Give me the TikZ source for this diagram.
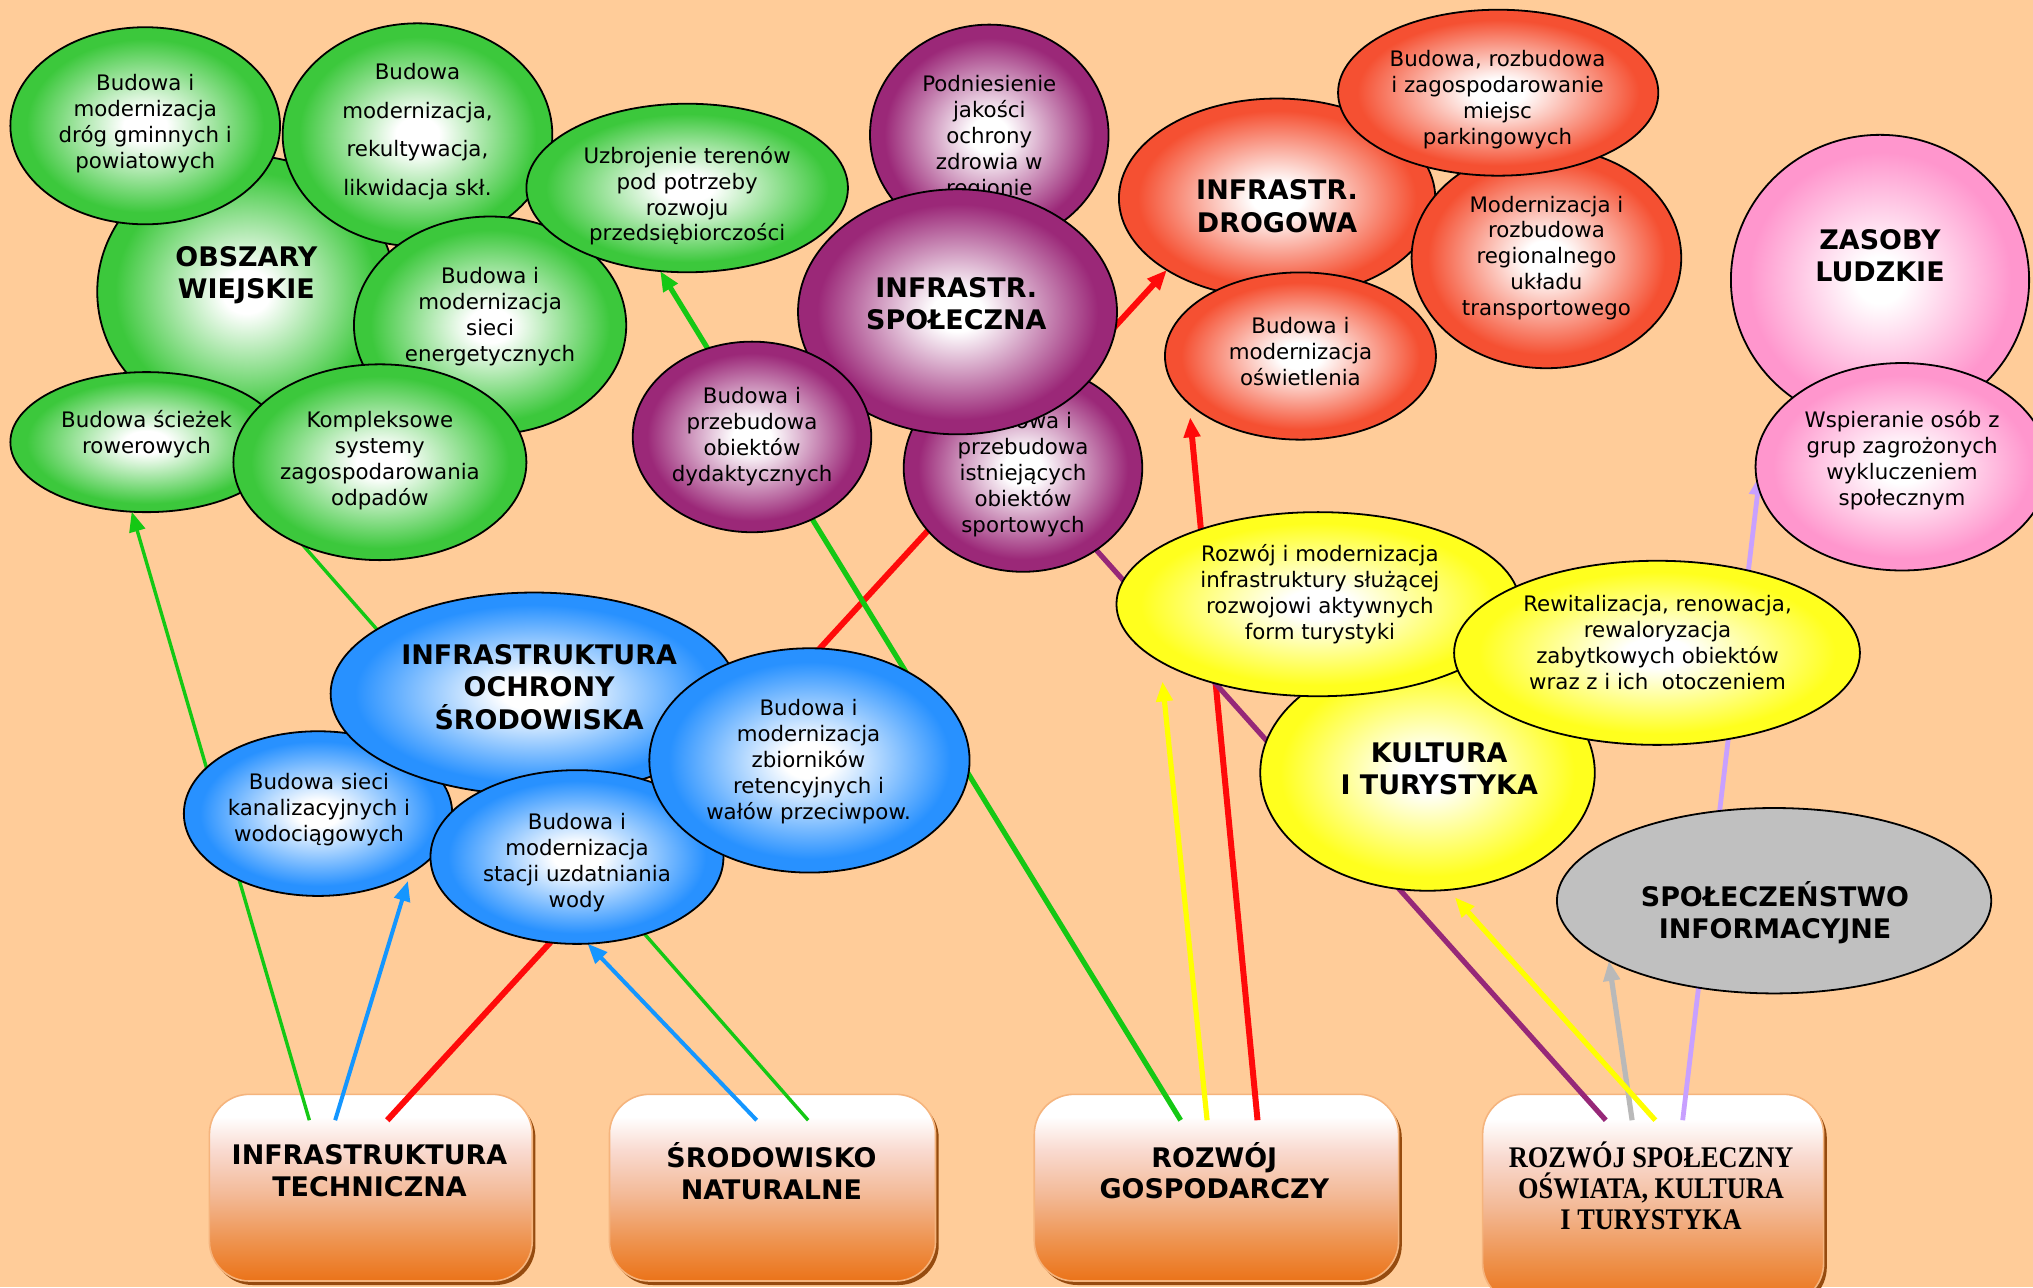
\documentclass[tikz,border=0pt]{standalone}
\usepackage{fontspec}
\setmainfont{DejaVu Sans}
\newfontfamily\boxserif[FakeStretch=0.88]{Liberation Serif}
\usetikzlibrary{shapes.geometric,arrows.meta,shadows}
\pgfdeclarelayer{back}
\pgfdeclarelayer{lines}
\pgfsetlayers{back,lines,main}

\definecolor{bgc}{RGB}{255,204,153}
\definecolor{cgreen}{RGB}{60,200,60}
\definecolor{cpurple}{RGB}{155,40,120}
\definecolor{cred}{RGB}{245,80,50}
\definecolor{cblue}{RGB}{40,145,255}
\definecolor{cyellow}{RGB}{255,255,30}
\definecolor{cpink}{RGB}{255,150,205}
\definecolor{cgray}{RGB}{192,192,192}
\definecolor{boxor}{RGB}{235,115,25}
\definecolor{boxmid}{RGB}{238,145,75}
\definecolor{boxsal}{RGB}{243,185,150}
\definecolor{boxpk}{RGB}{249,218,208}
\definecolor{boxbd}{RGB}{245,180,125}
\definecolor{boxsh}{RGB}{150,75,15}
\definecolor{lgreen}{RGB}{20,200,20}
\definecolor{lred}{RGB}{255,10,10}
\definecolor{lblue}{RGB}{20,150,255}
\definecolor{lyellow}{RGB}{255,255,0}
\definecolor{lpurple}{RGB}{150,40,120}
\definecolor{lgray}{RGB}{185,185,185}
\definecolor{llav}{RGB}{200,160,255}
\colorlet{elc}{white}

\pgfdeclareradialshading[elc]{elshade}{\pgfpoint{0bp}{0bp}}{color(0bp)=(white); color(4bp)=(white); color(22bp)=(elc); color(50bp)=(elc)}
\pgfdeclareverticalshading{boxshade}{100bp}{color(0bp)=(boxor); color(25bp)=(boxor); color(35bp)=(boxmid); color(48bp)=(boxsal); color(60bp)=(boxpk); color(69bp)=(white); color(100bp)=(white)}

\tikzset{
  el/.style={ellipse, draw=black, line width=0.9pt, inner sep=0pt, outer sep=0pt, /utils/exec={\colorlet{elc}{#1}}, shading=elshade, shade},
  elflat/.style={ellipse, draw=black, line width=0.9pt, inner sep=0pt, outer sep=0pt, fill=#1},
  sz/.style 2 args={minimum width=#1*0.65pt, minimum height=#2*0.65pt},
  tx/.style={align=center, inner sep=0pt, font=\fontsize{10.7}{13}\selectfont},
  ttl/.style={align=center, inner sep=0pt, font=\fontsize{13.5}{16.2}\selectfont\bfseries},
  boxst/.style={rectangle, rounded corners=20pt, draw=boxbd, line width=0.8pt, shading=boxshade, shade, drop shadow={shadow xshift=1.6pt, shadow yshift=-2pt, fill=boxsh, opacity=1}, inner sep=0pt},
  arr/.style={-{Triangle[length=10pt,width=8pt]}},
}

\begin{document}
\begin{tikzpicture}[x=0.65pt,y=-0.65pt]
\useasboundingbox (0,0) rectangle (1568,993);

% ---------- green group ----------
\node[el=cgreen, sz={230}{210}] (G0) at (190,225) {};
\node[ttl] (G0t) at (190,212.5) {OBSZARY\\WIEJSKIE};
\node[el=cgreen, sz={208}{152}] (G1) at (112,97) {};
\node[tx] (G1t) at (112,95.6) {Budowa i\\modernizacja\\dróg gminnych i\\powiatowych};
\node[el=cgreen, sz={208}{172}] (G2) at (322,104) {};
\node[tx, font=\fontsize{10.7}{19.5}\selectfont] (G2t) at (322,101.5) {Budowa\\modernizacja,\\rekultywacja,\\likwidacja skł.};
\node[el=cgreen, sz={210}{168}] (G4) at (378,251) {};
\node[tx] (G4t) at (378,244) {Budowa i\\modernizacja\\sieci\\energetycznych};
\node[el=cgreen, sz={248}{130}] (G3) at (530,145) {};
\node[tx] (G3t) at (530,151) {Uzbrojenie terenów\\pod potrzeby\\rozwoju\\przedsiębiorczości};
\node[el=cgreen, sz={210}{108}] (G5) at (113,341) {};
\node[tx] (G5t) at (113,335) {Budowa ścieżek\\rowerowych};
\node[el=cgreen, sz={226}{151}] (G6) at (293,356.5) {};
\node[tx] (G6t) at (293,355) {Kompleksowe\\systemy\\zagospodarowania\\odpadów};

% ---------- purple group ----------
\node[el=cpurple, sz={184}{170}] (P1) at (763,104) {};
\node[tx] (P1t) at (763,106) {Podniesienie\\jakości\\ochrony\\zdrowia w\\regionie};
\node[el=cpurple, sz={184}{160}] (P2) at (789,361) {};
\node[tx] (P2t) at (789,366) {Budowa i\\przebudowa\\istniejących\\obiektów\\sportowych};
\node[el=cpurple, sz={246}{189}] (P0) at (738.5,240.5) {};
\node[ttl] (P0t) at (737.6,234) {INFRASTR.\\SPOŁECZNA};
\node[el=cpurple, sz={184}{147}] (P3) at (580,337) {};
\node[tx] (P3t) at (580,337) {Budowa i\\przebudowa\\obiektów\\dydaktycznych};

% ---------- red group ----------
\node[el=cred, sz={244}{154}] (R0) at (985,153) {};
\node[ttl] (R0t) at (985,159) {INFRASTR.\\DROGOWA};
\node[el=cred, sz={208}{170}] (R2) at (1192.7,199) {};
\node[tx] (R2t) at (1192.7,199) {Modernizacja i\\rozbudowa\\regionalnego\\układu\\transportowego};
\node[el=cred, sz={247}{128}] (R1) at (1155.5,71.5) {};
\node[tx] (R1t) at (1155,77) {Budowa, rozbudowa\\i zagospodarowanie\\miejsc\\parkingowych};
\node[el=cred, sz={209}{129}] (R3) at (1003,274.6) {};
\node[tx] (R3t) at (1003,271) {Budowa i\\modernizacja\\oświetlenia};

% ---------- pink group ----------
\node[el=cpink, sz={230}{224}] (K0) at (1450,216) {};
\node[ttl] (K0t) at (1450,197) {ZASOBY\\LUDZKIE};
\node[el=cpink, sz={226}{160}] (K1) at (1467,360) {};
\node[tx] (K1t) at (1467,355) {Wspieranie osób z\\grup zagrożonych\\wykluczeniem\\społecznym};

% ---------- yellow group ----------
\node[el=cyellow, sz={258}{182}] (Y0) at (1101,596) {};
\node[ttl] (Y0t) at (1110,593) {KULTURA\\I TURYSTYKA};
\node[el=cyellow, sz={311}{142}] (Y1) at (1016.6,466) {};
\node[tx] (Y1t) at (1018,458.4) {Rozwój i modernizacja\\infrastruktury służącej\\rozwojowi aktywnych\\form turystyki};
\node[el=cyellow, sz={313}{142}] (Y2) at (1278,503.5) {};
\node[tx] (Y2t) at (1278.4,495.3) {Rewitalizacja, renowacja,\\rewaloryzacja\\zabytkowych obiektów\\wraz z i ich~~otoczeniem};

% ---------- gray ----------
\node[elflat=cgray, sz={335}{143}] (S0) at (1368.3,694.7) {};
\node[ttl] (S0t) at (1369,703.8) {SPOŁECZEŃSTWO\\INFORMACYJNE};

% ---------- blue group ----------
\node[el=cblue, sz={207}{127}] (B1) at (245.3,627.5) {};
\node[tx] (B1t) at (246,624.5) {Budowa sieci\\kanalizacyjnych i\\wodociągowych};
\node[el=cblue, sz={314}{156}] (B0) at (412,535) {};
\node[ttl] (B0t) at (415.8,530) {INFRASTRUKTURA\\OCHRONY\\ŚRODOWISKA};
\node[el=cblue, sz={226}{134}] (B2) at (445,661) {};
\node[tx] (B2t) at (445,665.4) {Budowa i\\modernizacja\\stacji uzdatniania\\wody};
\node[el=cblue, sz={247}{173}] (B3) at (624.3,586.5) {};
\node[tx] (B3t) at (623.6,587.5) {Budowa i\\modernizacja\\zbiorników\\retencyjnych i\\wałów przeciwpow.};

% ---------- background and bottom boxes ----------
\begin{pgfonlayer}{back}
\fill[bgc] (0,0) rectangle (1568,993);
\node[boxst, sz={249}{144}] (T1) at (286,916) {};
\node[ttl, font=\fontsize{13.5}{15.8}\selectfont\bfseries] (T1t) at (285,903) {INFRASTRUKTURA\\TECHNICZNA};
\node[boxst, sz={251.5}{144}] (T2) at (595.8,916) {};
\node[ttl, font=\fontsize{13.5}{15.8}\selectfont\bfseries] (T2t) at (595,903.5) {ŚRODOWISKO\\NATURALNE};
\node[boxst, sz={281}{144}] (T3) at (938.2,916) {};
\node[ttl, font=\fontsize{13.5}{15.8}\selectfont\bfseries] (T3t) at (936.6,903) {ROZWÓJ\\GOSPODARCZY};
\node[boxst, sz={263}{161}] (T4) at (1275,924.5) {};
\node[align=center, inner sep=0pt, font=\boxserif\fontsize{15}{15.4}\selectfont\bfseries] (T4t) at (1273.4,914.6) {ROZWÓJ SPOŁECZNY\\OŚWIATA, KULTURA\\I TURYSTYKA};
\end{pgfonlayer}

% ---------- connectors ----------
\coordinate (t1g) at (238.6,864);
\coordinate (t1b) at (258.5,864);
\coordinate (t1r) at (298.7,864);
\coordinate (t2b) at (583.6,864);
\coordinate (t2g) at (623.3,864);
\coordinate (t3g) at (910.6,864);
\coordinate (t3y) at (931,864);
\coordinate (t3r) at (969.9,864);
\coordinate (t4p) at (1238.5,864);
\coordinate (t4g) at (1258.8,864);
\coordinate (t4y) at (1276.7,864);
\coordinate (t4l) at (1297.8,864);
\coordinate (g2end) at (177,356);

\begin{pgfonlayer}{lines}
\draw[lgreen, line width=1.7pt, arr] (t1g) -- (G5.258);
\draw[lblue, line width=2pt, arr, shorten >=4pt] (t1b) -- (B1.-33);
\draw[lred, line width=3pt, arr] (t1r) -- (R0.213);
\draw[lblue, line width=2pt, arr] (t2b) -- (B2.-83);
\draw[lgreen, line width=1.7pt] (t2g) -- (g2end);
\draw[lgreen, line width=2.6pt, arr] (t3g) -- (G3.252);
\draw[lyellow, line width=2.6pt, arr, shorten >=10pt] (t3y) -- (Y1.200);
\draw[lred, line width=3pt, arr, shorten >=7pt] (t3r) -- (R3.203);
\draw[lpurple, line width=2.6pt] (t4p) -- (P2);
\draw[lgray, line width=2.6pt, arr] (t4g) -- (S0.200);
\draw[lyellow, line width=2.6pt, arr, shorten >=5pt] (t4y) -- (Y0.-80);
\draw[llav, line width=2.4pt, arr, shorten >=-6pt] (t4l) -- (K1.188);
\end{pgfonlayer}
\end{tikzpicture}
\end{document}
